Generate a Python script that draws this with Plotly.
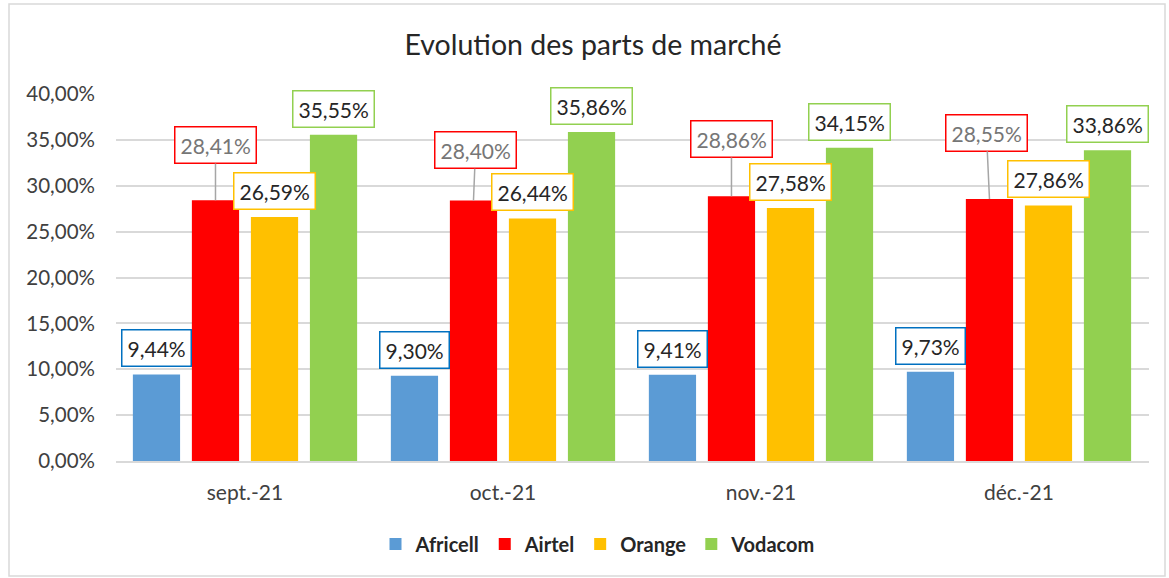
import plotly.graph_objects as go

months = ["sept.-21", "oct.-21", "nov.-21", "déc.-21"]
operators = ["Africell", "Airtel", "Orange", "Vodacom"]
africell = [0.0944, 0.0930, 0.0941, 0.0973]
airtel = [0.2841, 0.2840, 0.2886, 0.2855]
orange = [0.2659, 0.2644, 0.2758, 0.2786]
vodacom = [0.3555, 0.3586, 0.3415, 0.3386]
series = [africell, airtel, orange, vodacom]

bar_colors = ["#5B9BD5", "#FF0000", "#FFC000", "#92D050"]
box_colors = ["#0070C0", "#FF0000", "#FFC000", "#92D050"]
text_colors = ["#262626", "#767676", "#262626", "#262626"]
# pixel offsets of the leader-line labels for Airtel (ax, ay)
airtel_offsets = [(0, -55), (2, -50), (0, -57), (-3, -66)]

W, H = 1169, 578
ml, mr, mt, mb = 116, 20, 94, 117
FONT = "Lato"
FS = 21

bargap = 0.085
bargroupgap = 0.2

fig = go.Figure()
for name, vals, col in zip(operators, series, bar_colors):
    fig.add_trace(go.Bar(name=name, x=months, y=vals, marker=dict(color=col, line=dict(width=0))))

n = len(operators)
slot = (1 - bargap) / n
annotations = []
for k, (vals, bc, tc) in enumerate(zip(series, box_colors, text_colors)):
    off = -(1 - bargap) / 2 + slot * (k + 0.5)
    for i, v in enumerate(vals):
        txt = f"{v*100:.2f}%".replace(".", ",")
        base = dict(x=i + off, y=v, xref="x", yref="y", text=txt,
                    font=dict(family=FONT, size=FS, color=tc),
                    bordercolor=bc, borderwidth=1.5, borderpad=5, bgcolor="white")
        if k == 1:
            ax, ay = airtel_offsets[i]
            base.update(showarrow=True, arrowhead=0, arrowwidth=1.5, arrowcolor="#A6A6A6",
                        ax=ax, ay=ay, standoff=0, startstandoff=0)
        else:
            base.update(showarrow=False, yshift=26, yanchor="middle")
        annotations.append(base)

fig.update_layout(
    width=W, height=H,
    margin=dict(l=ml, r=mr, t=mt, b=mb),
    paper_bgcolor="white", plot_bgcolor="white",
    separators=", ",
    barmode="group", bargap=bargap, bargroupgap=bargroupgap,
    title=dict(text="Evolution des parts de marché", x=593 / W, xanchor="center",
               y=1 - 45 / H, yanchor="middle",
               font=dict(family=FONT, size=28.5, color="#262626")),
    font=dict(family=FONT, size=FS, color="#404040"),
    xaxis=dict(showgrid=False, showline=True, linecolor="#D9D9D9", linewidth=1.5,
               ticks="", ticklabelstandoff=12,
               tickfont=dict(family=FONT, size=FS, color="#404040")),
    yaxis=dict(range=[0, 0.4], dtick=0.05, tickformat=".2%", showgrid=True,
               gridcolor="#D9D9D9", gridwidth=1.5, zeroline=False, showline=False,
               ticks="", ticklabelstandoff=20,
               tickfont=dict(family=FONT, size=20.5, color="#404040")),
    legend=dict(orientation="h", x=(598 - ml) / (W - ml - mr), xanchor="center",
                y=(461 - 544) / (H - mt - mb), yanchor="middle",
                font=dict(family=FONT, size=20, color="#262626", weight="bold"),
                itemwidth=30, traceorder="normal"),
    annotations=annotations,
)

pw = W - ml - mr
ph = H - mt - mb
fig.add_shape(type="rect", xref="paper", yref="paper",
              x0=(9 - ml) / pw, x1=(1165 - ml) / pw,
              y0=(H - mb - 576) / ph, y1=(H - mb - 4) / ph,
              line=dict(color="#D9D9D9", width=1.5), fillcolor="rgba(0,0,0,0)", layer="below")

fig.write_html("out.html", config={"displayModeBar": False},
               post_script="document.body.style.margin='0';document.body.style.overflow='hidden';")
